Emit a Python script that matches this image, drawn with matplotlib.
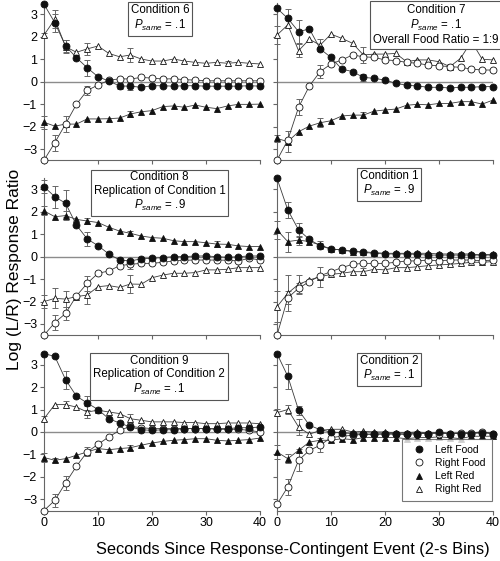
# log (L/R) response ratio vs time since response-contingent event
# six conditions, 2-s bins, food and red-light events

import matplotlib
matplotlib.use('AGG')
import matplotlib.pyplot as plt
from matplotlib.lines import Line2D
import numpy as np

plt.rcParams['font.family'] = ['Liberation Sans', 'DejaVu Sans']
plt.rcParams['mathtext.fontset'] = 'custom'
plt.rcParams['mathtext.rm'] = 'Liberation Sans'
plt.rcParams['mathtext.it'] = 'Liberation Sans:italic'

#%% data
bins = np.arange(0, 41, 2)

# Condition 6
c6_lf = [3.45, 2.63, 1.59, 1.07, 0.62, 0.22, 0.03, -0.19, -0.20, -0.25, -0.18,
         -0.18, -0.20, -0.18, -0.18, -0.20, -0.20, -0.20, -0.20, -0.18, -0.20]
c6_rf = [-3.5, -2.72, -1.88, -1.01, -0.39, -0.15, 0.06, 0.13, 0.12, 0.19, 0.16,
         0.12, 0.13, 0.09, 0.07, 0.04, 0.04, 0.04, 0.04, 0.04, 0.04]
c6_lr = [-1.81, -1.98, -1.89, -1.89, -1.66, -1.66, -1.65, -1.62, -1.44, -1.34, -1.29,
         -1.11, -1.08, -1.14, -1.04, -1.14, -1.20, -1.08, -1.01, -1.01, -1.00]
c6_rr = [2.08, 2.78, 1.56, 1.31, 1.46, 1.59, 1.26, 1.11, 1.19, 1.01, 0.92,
         0.92, 1.01, 0.92, 0.86, 0.82, 0.86, 0.82, 0.86, 0.82, 0.79]

# Condition 7
c7_lf = [3.27, 2.82, 2.23, 2.35, 1.46, 1.08, 0.56, 0.45, 0.19, 0.15, 0.07,
         -0.07, -0.16, -0.19, -0.25, -0.25, -0.28, -0.25, -0.25, -0.22, -0.22]
c7_rf = [-3.5, -2.60, -1.14, -0.19, 0.45, 0.79, 0.97, 1.19, 1.11, 1.08, 0.97,
         0.94, 0.86, 0.82, 0.74, 0.71, 0.67, 0.64, 0.56, 0.52, 0.52]
c7_lr = [-2.53, -2.67, -2.23, -1.98, -1.83, -1.74, -1.53, -1.49, -1.49, -1.31, -1.26,
         -1.22, -1.05, -1.01, -1.03, -0.97, -0.97, -0.89, -0.89, -1.00, -0.82]
c7_rr = [2.08, 2.53, 1.38, 1.89, 1.63, 2.12, 1.93, 1.71, 1.19, 1.23, 1.23,
         1.26, 0.89, 0.97, 0.97, 0.89, 0.67, 1.04, 1.80, 1.00, 0.97]

# Condition 8
c8_lf = [3.12, 2.67, 2.38, 1.41, 0.79, 0.49, 0.12, -0.15, -0.19, -0.10, -0.07,
         -0.04, 0.00, 0.00, 0.03, 0.03, 0.00, -0.03, 0.00, 0.03, 0.03]
c8_rf = [-3.5, -2.94, -2.53, -1.75, -1.19, -0.74, -0.64, -0.40, -0.34, -0.30, -0.30,
         -0.25, -0.19, -0.16, -0.15, -0.15, -0.15, -0.16, -0.19, -0.07, -0.15]
c8_lr = [2.04, 1.78, 1.83, 1.66, 1.59, 1.52, 1.31, 1.14, 1.04, 0.92, 0.85,
         0.82, 0.71, 0.67, 0.67, 0.62, 0.56, 0.55, 0.48, 0.45, 0.45]
c8_rr = [-2.00, -1.86, -1.89, -1.78, -1.71, -1.34, -1.29, -1.37, -1.22, -1.23, -0.94,
         -0.82, -0.74, -0.74, -0.71, -0.59, -0.59, -0.56, -0.49, -0.49, -0.49]

# Condition 1
c1_lf = [3.49, 2.08, 1.19, 0.77, 0.48, 0.34, 0.30, 0.25, 0.19, 0.15, 0.12,
         0.12, 0.12, 0.10, 0.07, 0.07, 0.07, 0.07, 0.07, 0.07, 0.07]
c1_rf = [-3.5, -1.83, -1.41, -1.11, -0.85, -0.67, -0.49, -0.34, -0.30, -0.30, -0.30,
         -0.25, -0.19, -0.19, -0.15, -0.19, -0.15, -0.15, -0.15, -0.19, -0.15]
c1_lr = [1.19, 0.67, 0.74, 0.67, 0.52, 0.34, 0.30, 0.22, 0.22, 0.18, 0.15,
         0.15, 0.15, 0.15, 0.15, 0.12, 0.12, 0.12, 0.12, 0.07, 0.12]
c1_rr = [-2.23, -1.63, -1.23, -1.04, -0.89, -0.79, -0.74, -0.67, -0.67, -0.56, -0.59,
         -0.49, -0.49, -0.45, -0.40, -0.37, -0.34, -0.30, -0.25, -0.25, -0.22]

# Condition 9
c9_lf = [3.49, 3.37, 2.33, 1.60, 1.29, 1.00, 0.59, 0.40, 0.22, 0.10, 0.07,
         0.10, 0.10, 0.15, 0.15, 0.15, 0.15, 0.15, 0.19, 0.19, 0.22]
c9_rf = [-3.5, -3.05, -2.27, -1.53, -0.89, -0.55, -0.22, 0.07, 0.25, 0.19, 0.15,
         0.15, 0.15, 0.15, 0.15, 0.15, 0.12, 0.12, 0.12, 0.07, 0.00]
c9_lr = [-1.14, -1.26, -1.19, -1.04, -0.89, -0.74, -0.79, -0.74, -0.70, -0.59, -0.49,
         -0.42, -0.37, -0.34, -0.30, -0.30, -0.37, -0.40, -0.37, -0.34, -0.27]
c9_rr = [0.59, 1.22, 1.22, 1.11, 0.89, 0.97, 0.89, 0.82, 0.59, 0.52, 0.45,
         0.45, 0.45, 0.42, 0.42, 0.37, 0.37, 0.40, 0.40, 0.40, 0.37]

# Condition 2
c2_lf = [3.49, 2.48, 0.97, 0.30, 0.10, 0.00, -0.04, -0.07, -0.10, -0.10, -0.10,
         -0.10, -0.10, -0.07, -0.07, 0.00, -0.07, -0.07, -0.07, -0.04, -0.07]
c2_rf = [-3.22, -2.45, -1.26, -0.82, -0.59, -0.25, -0.19, -0.15, -0.10, -0.10, -0.07,
         -0.07, -0.10, -0.07, -0.07, -0.07, -0.07, -0.04, -0.04, 0.00, -0.07]
c2_lr = [-0.89, -1.19, -0.82, -0.45, -0.37, -0.37, -0.30, -0.34, -0.25, -0.25, -0.25,
         -0.25, -0.30, -0.25, -0.25, -0.22, -0.25, -0.30, -0.19, -0.19, -0.19]
c2_rr = [0.86, 1.00, 0.22, -0.10, 0.07, 0.12, 0.12, 0.00, 0.03, 0.00, 0.00,
         -0.04, -0.03, 0.00, -0.04, -0.04, -0.07, -0.07, -0.04, 0.00, -0.07]

# error bars: (bin, half-width) pairs where visible
c6_err = {'lf': [(2, .4), (4, .25), (8, .35), (14, .12), (16, .15)],
          'rf': [(2, .35), (8, .2)],
          'lr': [(0, .3), (4, .35), (16, .15)],
          'rr': [(0, .1), (2, .4), (4, .3), (8, .25), (16, .3), (34, .1)]}
c7_err = {'lf': [(2, .4), (4, .5), (16, .15)],
          'rf': [(4, .35), (8, .3)],
          'lr': [(0, .15), (2, .45), (8, .2), (16, .15)],
          'rr': [(0, .4), (4, .3), (8, .25), (16, .35), (32, .1)]}
c8_err = {'lf': [(0, .3), (2, .5), (4, .6), (8, .3)],
          'rf': [(2, .35), (4, .3), (8, .35), (16, .2)],
          'lr': [(0, .2), (4, .2), (8, .15), (16, .1), (32, .15)],
          'rr': [(0, .3), (2, .45), (4, .35), (8, .4), (16, .4)]}
c1_err = {'lf': [(2, .35), (4, .3), (8, .15)],
          'rf': [(2, .3), (4, .25)],
          'lr': [(0, .4), (2, .45), (4, .2), (8, .2)],
          'rr': [(0, .7), (2, .8), (4, .4), (8, .45), (16, .15)]}
c9_err = {'lf': [(4, .4), (8, .3)],
          'rf': [(2, .3), (4, .3)],
          'lr': [(0, .2), (2, .1), (8, .2), (16, .1)],
          'rr': [(0, .1), (4, .15), (8, .25), (16, .2)]}
c2_err = {'lf': [(2, .55), (4, .2)],
          'rf': [(2, .35), (4, .5), (8, .3)],
          'lr': [(0, .3), (2, .2)],
          'rr': [(0, .15), (2, .2), (4, .35)]}

labels = {'lf': 'Left Food', 'rf': 'Right Food', 'lr': 'Left Red', 'rr': 'Right Red'}

panels = [
    (c6_lf, c6_rf, c6_lr, c6_rr, c6_err, 'Condition 6\n$P_{same}$ = .1', 21.5, 3.45),
    (c7_lf, c7_rf, c7_lr, c7_rr, c7_err, 'Condition 7\n$P_{same}$ = .1\nOverall Food Ratio = 1:9', 29.4, 3.45),
    (c8_lf, c8_rf, c8_lr, c8_rr, c8_err, 'Condition 8\nReplication of Condition 1\n$P_{same}$ = .9', 21.4, 3.8),
    (c1_lf, c1_rf, c1_lr, c1_rr, c1_err, 'Condition 1\n$P_{same}$ = .9', 20.7, 3.88),
    (c9_lf, c9_rf, c9_lr, c9_rr, c9_err, 'Condition 9\nReplication of Condition 2\n$P_{same}$ = .1', 21.3, 3.45),
    (c2_lf, c2_rf, c2_lr, c2_rr, c2_err, 'Condition 2\n$P_{same}$ = .1', 20.7, 3.45),
]

# marker styles: fill colour, marker
style = {'lf': ('#111111', 'o'), 'rf': ('white', 'o'),
         'lr': ('#111111', '^'), 'rr': ('white', '^')}

#%% plot
fig = plt.figure(figsize=(5.0, 5.61), dpi=100)

lefts = [0.088, 0.554]
bottoms = [0.7144, 0.4025, 0.090]
w, h = 0.432, 0.28
grey = '#666666'

for pp, (lf, rf, lr, rr, err, txt, tx, ty) in enumerate(panels):
    row, col = pp // 2, pp % 2
    ax = fig.add_axes([lefts[col], bottoms[row], w, h])
    ax.axhline(0, color='#8c8c8c', linewidth=1.0, zorder=1)
    series = {'lf': lf, 'rf': rf, 'lr': lr, 'rr': rr}
    for key in ['rr', 'lr', 'rf', 'lf']:
        yy = np.array(series[key])
        if err[key]:
            ex = [e[0] for e in err[key]]
            ey = [series[key][e[0] // 2] for e in err[key]]
            ee = [e[1] for e in err[key]]
            ax.errorbar(ex, ey, yerr=ee, fmt='none', ecolor=grey, elinewidth=0.7,
                        capsize=2, capthick=0.7, zorder=2, clip_on=False)
        fc, mk = style[key]
        ax.plot(bins, yy, color='#3a3a3a', linewidth=0.6, marker=mk,
                markersize=5 if mk == 'o' else 4.6, markerfacecolor=fc,
                markeredgecolor='#111111', markeredgewidth=0.6, zorder=3, clip_on=False)
    ax.text(tx, ty, txt, ha='center', va='top', fontsize=8.3, linespacing=1.15,
            zorder=5, bbox=dict(boxstyle='square,pad=0.25', fc='white', ec='#555555', lw=0.8))

    ax.set_xlim(0, 40)
    ax.set_ylim(-3.5, 3.5)
    ax.set_xticks(range(0, 41, 10))
    ax.set_yticks(range(-3, 4))
    for s in ['top', 'right']:
        ax.spines[s].set_visible(False)
    for s in ['left', 'bottom']:
        ax.spines[s].set_color(grey)
        ax.spines[s].set_linewidth(0.8)
    ax.tick_params(direction='out', length=3, width=0.8, color=grey, labelsize=9, pad=2)
    if col == 1:
        ax.set_yticklabels([])
    if row < 2:
        ax.set_xticklabels([])

    if pp == 5:
        handles = [Line2D([], [], linestyle='none', marker=style[k][1], markersize=5,
                          markerfacecolor=style[k][0], markeredgecolor='#111111',
                          markeredgewidth=0.6) for k in ['lf', 'rf', 'lr', 'rr']]
        leg = ax.legend(handles, [labels[k] for k in ['lf', 'rf', 'lr', 'rr']],
                        loc='lower right', bbox_to_anchor=(1.02, 0.03), fontsize=7.5,
                        frameon=True, fancybox=False, edgecolor='#555555',
                        handletextpad=0.6, labelspacing=0.3, borderpad=0.6)
        leg.get_frame().set_linewidth(0.8)
        leg.set_zorder(6)

fig.text(0.03, 0.52, 'Log (L/R) Response Ratio', rotation=90, ha='center', va='center', fontsize=12.5)
fig.text(0.586, 0.021, 'Seconds Since Response-Contingent Event (2-s Bins)', ha='center',
         va='center', fontsize=11.8)

fig.savefig('out.png', dpi=100)
